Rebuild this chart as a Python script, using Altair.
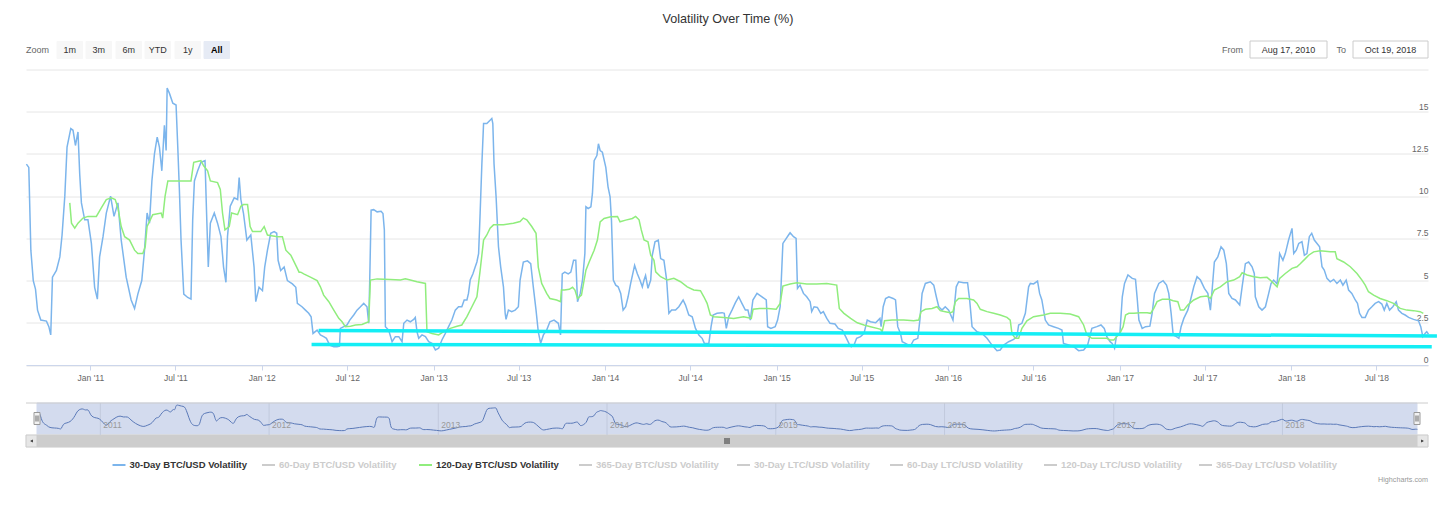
import altair as alt
import pandas as pd

# ---------------- data ----------------
# 30-Day BTC/USD volatility: time as decimal year, value in %
t30 = [2010.627, 2010.641, 2010.653, 2010.667, 2010.680, 2010.692, 2010.711, 2010.744, 2010.758, 2010.769,
       2010.779, 2010.802, 2010.822, 2010.835, 2010.851, 2010.864, 2010.886, 2010.899, 2010.913, 2010.928,
       2010.938, 2010.948, 2010.967, 2010.986, 2011.006, 2011.025, 2011.041, 2011.054, 2011.074, 2011.093,
       2011.118, 2011.138, 2011.161, 2011.180, 2011.209, 2011.238, 2011.258, 2011.277, 2011.300, 2011.316,
       2011.331, 2011.345, 2011.359, 2011.374, 2011.390, 2011.403, 2011.417, 2011.432, 2011.442, 2011.448,
       2011.461, 2011.481, 2011.500, 2011.510, 2011.519, 2011.529, 2011.545, 2011.568, 2011.587, 2011.597,
       2011.607, 2011.626, 2011.645, 2011.669, 2011.678, 2011.688, 2011.700, 2011.723, 2011.742, 2011.762,
       2011.777, 2011.791, 2011.800, 2011.816, 2011.839, 2011.859, 2011.868, 2011.878, 2011.893, 2011.913,
       2011.936, 2011.955, 2011.965, 2011.984, 2012.004, 2012.017, 2012.033, 2012.052, 2012.072, 2012.087,
       2012.095, 2012.110, 2012.130, 2012.149, 2012.178, 2012.198, 2012.207, 2012.234, 2012.254, 2012.273,
       2012.287, 2012.298, 2012.322, 2012.341, 2012.360, 2012.376, 2012.395, 2012.419, 2012.438, 2012.452,
       2012.457, 2012.477, 2012.496, 2012.512, 2012.535, 2012.554, 2012.574, 2012.593, 2012.612, 2012.622,
       2012.628, 2012.636, 2012.651, 2012.671, 2012.694, 2012.705, 2012.713, 2012.719, 2012.738, 2012.758,
       2012.777, 2012.797, 2012.816, 2012.826, 2012.845, 2012.864, 2012.884, 2012.893, 2012.903, 2012.913,
       2012.932, 2012.952, 2012.971, 2012.990, 2013.010, 2013.029, 2013.048, 2013.068, 2013.087, 2013.106,
       2013.126, 2013.145, 2013.164, 2013.178, 2013.194, 2013.203, 2013.213, 2013.229, 2013.242, 2013.252,
       2013.262, 2013.271, 2013.281, 2013.291, 2013.310, 2013.329, 2013.339, 2013.345, 2013.352, 2013.364,
       2013.378, 2013.391, 2013.407, 2013.417, 2013.422, 2013.436, 2013.455, 2013.475, 2013.494, 2013.504,
       2013.523, 2013.547, 2013.566, 2013.581, 2013.597, 2013.610, 2013.624, 2013.640, 2013.659, 2013.678,
       2013.702, 2013.727, 2013.740, 2013.750, 2013.765, 2013.785, 2013.800, 2013.816, 2013.829, 2013.839,
       2013.855, 2013.868, 2013.882, 2013.888, 2013.901, 2013.917, 2013.926, 2013.936, 2013.952, 2013.961,
       2013.971, 2013.984, 2014.004, 2014.017, 2014.029, 2014.037, 2014.048, 2014.062, 2014.076, 2014.091,
       2014.105, 2014.120, 2014.134, 2014.149, 2014.172, 2014.188, 2014.203, 2014.217, 2014.227, 2014.236,
       2014.250, 2014.266, 2014.275, 2014.291, 2014.310, 2014.324, 2014.343, 2014.359, 2014.372, 2014.388,
       2014.411, 2014.430, 2014.455, 2014.469, 2014.488, 2014.508, 2014.527, 2014.547, 2014.566, 2014.579,
       2014.605, 2014.618, 2014.630, 2014.653, 2014.682, 2014.695, 2014.707, 2014.721, 2014.740, 2014.760,
       2014.779, 2014.798, 2014.818, 2014.833, 2014.847, 2014.862, 2014.886, 2014.915, 2014.940, 2014.948,
       2014.967, 2014.992, 2015.006, 2015.021, 2015.031, 2015.037, 2015.050, 2015.070, 2015.079, 2015.099,
       2015.114, 2015.122, 2015.137, 2015.157, 2015.176, 2015.196, 2015.205, 2015.219, 2015.238, 2015.258,
       2015.273, 2015.293, 2015.312, 2015.341, 2015.360, 2015.384, 2015.403, 2015.422, 2015.436, 2015.452,
       2015.467, 2015.490, 2015.510, 2015.529, 2015.548, 2015.578, 2015.603, 2015.610, 2015.622, 2015.636,
       2015.655, 2015.680, 2015.694, 2015.707, 2015.723, 2015.733, 2015.752, 2015.781, 2015.800, 2015.824,
       2015.836, 2015.849, 2015.868, 2015.897, 2015.917, 2015.932, 2015.946, 2015.965, 2015.984, 2016.004,
       2016.029, 2016.037, 2016.048, 2016.062, 2016.091, 2016.114, 2016.126, 2016.140, 2016.169, 2016.198,
       2016.227, 2016.256, 2016.285, 2016.304, 2016.324, 2016.353, 2016.382, 2016.401, 2016.411, 2016.430,
       2016.450, 2016.469, 2016.479, 2016.498, 2016.521, 2016.533, 2016.546, 2016.566, 2016.585, 2016.614,
       2016.643, 2016.663, 2016.672, 2016.702, 2016.731, 2016.760, 2016.789, 2016.812, 2016.837, 2016.866,
       2016.890, 2016.909, 2016.924, 2016.943, 2016.955, 2016.969, 2016.981, 2017.000, 2017.014, 2017.027,
       2017.047, 2017.072, 2017.091, 2017.101, 2017.111, 2017.130, 2017.150, 2017.175, 2017.188, 2017.202,
       2017.227, 2017.252, 2017.272, 2017.285, 2017.299, 2017.311, 2017.330, 2017.344, 2017.357, 2017.373,
       2017.396, 2017.412, 2017.431, 2017.450, 2017.470, 2017.493, 2017.513, 2017.528, 2017.538, 2017.551,
       2017.571, 2017.590, 2017.606, 2017.621, 2017.635, 2017.654, 2017.674, 2017.699, 2017.713, 2017.732,
       2017.751, 2017.771, 2017.784, 2017.790, 2017.810, 2017.829, 2017.849, 2017.868, 2017.882, 2017.897,
       2017.917, 2017.932, 2017.951, 2017.965, 2017.984, 2018.004, 2018.014, 2018.029, 2018.043, 2018.062,
       2018.076, 2018.091, 2018.105, 2018.119, 2018.134, 2018.150, 2018.165, 2018.179, 2018.192, 2018.208,
       2018.227, 2018.247, 2018.266, 2018.286, 2018.301, 2018.320, 2018.334, 2018.353, 2018.373, 2018.386,
       2018.398, 2018.412, 2018.431, 2018.450, 2018.470, 2018.489, 2018.509, 2018.528, 2018.542, 2018.557,
       2018.573, 2018.592, 2018.612, 2018.625, 2018.645, 2018.664, 2018.684, 2018.713, 2018.742, 2018.755,
       2018.767, 2018.780, 2018.790, 2018.800]
v30 = [11.9, 11.7, 6.8, 5.0, 4.5, 3.25, 2.66, 2.6, 2.27, 1.78,
       5.2, 5.6, 6.4, 7.7, 10.0, 12.9, 14.0, 13.9, 13.0, 13.8,
       11.3, 9.6, 8.6, 8.6, 7.2, 4.6, 3.9, 6.4, 7.6, 9.0,
       10.0, 8.8, 9.6, 7.4, 5.2, 3.85, 3.35, 4.2, 5.0, 6.8,
       9.0, 8.4, 10.9, 12.5, 13.5, 12.9, 11.5, 14.2, 12.7, 16.4,
       16.1, 15.5, 15.4, 12.9, 10.5, 7.4, 4.2, 4.0, 3.9, 8.6,
       10.9, 11.5, 12.0, 12.1, 9.0, 5.8, 8.4, 9.0, 8.4, 7.6,
       5.8, 4.9, 7.6, 9.4, 9.9, 9.8, 11.1, 9.8, 9.0, 7.4,
       7.7, 5.8, 3.75, 4.6, 4.4, 5.8, 6.8, 7.8, 7.9, 7.8,
       6.2, 5.6, 5.8, 5.0, 4.8, 4.6, 3.65, 3.45, 3.25, 3.06,
       2.86, 1.87, 2.07, 1.78, 1.68, 1.58, 1.18, 1.08, 1.08, 1.12,
       2.17, 2.27, 2.37, 2.66, 2.96, 3.25, 3.45, 3.65, 3.45, 2.47,
       5.0, 9.17, 9.2, 9.07, 9.1, 8.97, 8.0, 2.27, 2.07, 1.38,
       1.68, 1.68, 1.38, 2.47, 2.66, 2.56, 2.7, 2.82, 1.97, 1.58,
       1.78, 1.68, 1.38, 1.28, 0.89, 0.99, 1.48, 1.87, 2.27, 2.66,
       3.25, 3.45, 3.45, 3.85, 3.85, 4.24, 5.03, 5.4, 5.8, 6.1,
       6.6, 9.0, 11.9, 14.3, 14.3, 14.5, 14.6, 14.3, 11.9, 9.96,
       7.0, 5.8, 4.63, 3.06, 2.7, 3.25, 3.16, 3.25, 3.45, 5.03,
       6.1, 6.17, 6.0, 4.63, 3.25, 1.97, 1.28, 1.78, 2.07, 2.56,
       2.66, 2.47, 1.78, 5.4, 5.5, 5.4, 5.5, 6.2, 6.2, 3.75,
       4.24, 5.03, 6.6, 9.37, 9.27, 9.37, 10.16, 12.1, 12.4, 13.1,
       12.7, 12.6, 11.7, 10.55, 9.96, 8.58, 5.03, 4.73, 4.63, 4.24,
       3.25, 3.45, 4.04, 4.83, 5.9, 5.4, 5.03, 4.63, 5.03, 5.3,
       4.54, 5.03, 6.5, 7.3, 7.4, 6.3, 6.2, 5.03, 3.06, 3.25,
       3.25, 3.45, 3.85, 3.55, 2.96, 2.86, 2.17, 1.78, 1.58, 1.28,
       1.28, 2.27, 2.96, 3.06, 3.1, 3.06, 2.17, 2.86, 3.25, 3.69,
       4.04, 3.65, 3.25, 3.25, 2.66, 3.85, 4.24, 4.04, 3.85, 2.27,
       2.17, 2.27, 2.66, 3.45, 5.82, 7.2, 7.4, 7.7, 7.83, 7.6,
       7.5, 4.54, 4.73, 4.24, 4.04, 3.75, 3.16, 3.45, 3.41, 3.06,
       3.16, 2.76, 2.47, 2.43, 2.17, 2.07, 1.68, 1.28, 1.08, 1.18,
       1.58, 1.68, 1.87, 2.66, 2.56, 2.5, 2.76, 2.27, 3.45, 3.94,
       4.04, 3.94, 3.85, 2.27, 1.87, 1.38, 1.28, 1.12, 1.48, 1.58,
       2.66, 4.24, 4.83, 4.93, 4.73, 4.04, 3.45, 3.25, 3.45, 3.25,
       2.66, 3.45, 4.63, 4.93, 4.87, 4.87, 3.85, 2.27, 1.97, 1.87,
       1.58, 1.18, 0.85, 0.89, 1.18, 1.38, 1.52, 1.68, 2.37, 2.47,
       3.06, 4.63, 4.83, 4.8, 4.97, 4.24, 3.85, 2.66, 2.37, 2.27,
       2.17, 2.07, 1.28, 1.18, 1.08, 0.85, 0.89, 1.18, 2.17, 2.27,
       2.37, 2.17, 1.68, 1.38, 1.28, 0.99, 1.78, 1.87, 4.04, 4.83,
       5.33, 5.13, 5.07, 3.94, 2.66, 2.17, 2.27, 2.3, 3.06, 4.24,
       4.83, 4.99, 4.73, 4.24, 3.06, 1.78, 1.68, 1.58, 2.27, 2.76,
       3.25, 3.85, 4.63, 5.23, 5.03, 4.54, 4.24, 3.25, 4.44, 6.1,
       6.4, 7.0, 6.8, 6.0, 4.24, 3.94, 3.85, 3.55, 4.63, 6.0,
       6.1, 5.82, 5.42, 4.04, 3.45, 3.25, 3.45, 4.24, 4.83, 5.03,
       4.8, 6.6, 6.2, 6.6, 7.4, 8.09, 6.6, 6.8, 7.2, 7.3,
       6.5, 6.6, 7.6, 7.8, 7.4, 7.2, 7.0, 5.82, 5.62, 5.13,
       4.93, 5.07, 4.83, 5.03, 4.73, 5.03, 4.44, 4.24, 3.85, 3.65,
       3.06, 2.82, 2.82, 3.25, 3.45, 3.65, 3.75, 3.61, 3.25, 3.65,
       3.25, 3.45, 3.75, 3.25, 3.06, 2.96, 2.82, 2.7, 2.62, 2.27,
       1.68, 1.87, 1.97, 1.83]

# 120-Day BTC/USD volatility
t120 = [2010.880, 2010.890, 2010.909, 2010.928, 2010.957, 2010.986, 2011.035, 2011.064, 2011.093, 2011.122,
        2011.145, 2011.161, 2011.180, 2011.200, 2011.229, 2011.258, 2011.277, 2011.306, 2011.320, 2011.331,
        2011.364, 2011.413, 2011.422, 2011.436, 2011.452, 2011.490, 2011.529, 2011.587, 2011.603, 2011.645,
        2011.661, 2011.684, 2011.700, 2011.742, 2011.758, 2011.771, 2011.785, 2011.810, 2011.824, 2011.859,
        2011.878, 2011.893, 2011.917, 2011.932, 2011.946, 2011.994, 2012.014, 2012.033, 2012.091, 2012.120,
        2012.140, 2012.169, 2012.203, 2012.217, 2012.227, 2012.244, 2012.283, 2012.322, 2012.341, 2012.360,
        2012.390, 2012.419, 2012.448, 2012.467, 2012.486, 2012.516, 2012.545, 2012.583, 2012.622, 2012.632,
        2012.671, 2012.748, 2012.806, 2012.835, 2012.864, 2012.903, 2012.952, 2012.961, 2012.990, 2013.029,
        2013.058, 2013.097, 2013.136, 2013.164, 2013.194, 2013.223, 2013.252, 2013.271, 2013.291, 2013.310,
        2013.329, 2013.349, 2013.407, 2013.465, 2013.504, 2013.523, 2013.543, 2013.572, 2013.597, 2013.610,
        2013.630, 2013.659, 2013.678, 2013.717, 2013.740, 2013.745, 2013.762, 2013.791, 2013.810, 2013.824,
        2013.839, 2013.862, 2013.888, 2013.907, 2013.936, 2013.955, 2013.971, 2013.994, 2014.033, 2014.072,
        2014.087, 2014.120, 2014.159, 2014.178, 2014.198, 2014.211, 2014.227, 2014.250, 2014.266, 2014.285,
        2014.295, 2014.324, 2014.362, 2014.401, 2014.440, 2014.479, 2014.517, 2014.556, 2014.576, 2014.595,
        2014.614, 2014.634, 2014.692, 2014.750, 2014.808, 2014.853, 2014.863, 2014.901, 2014.949, 2014.998,
        2015.021, 2015.037, 2015.079, 2015.118, 2015.176, 2015.234, 2015.293, 2015.351, 2015.366, 2015.393,
        2015.432, 2015.471, 2015.510, 2015.548, 2015.587, 2015.607, 2015.616, 2015.630, 2015.674, 2015.742,
        2015.800, 2015.829, 2015.843, 2015.868, 2015.907, 2015.936, 2015.955, 2015.984, 2016.014, 2016.029,
        2016.043, 2016.062, 2016.110, 2016.149, 2016.169, 2016.188, 2016.227, 2016.266, 2016.304, 2016.343,
        2016.362, 2016.372, 2016.391, 2016.411, 2016.430, 2016.459, 2016.498, 2016.556, 2016.595, 2016.653,
        2016.711, 2016.760, 2016.789, 2016.808, 2016.837, 2016.886, 2016.924, 2016.943, 2016.965, 2016.981,
        2017.000, 2017.019, 2017.033, 2017.052, 2017.082, 2017.120, 2017.159, 2017.179, 2017.198, 2017.217,
        2017.247, 2017.285, 2017.311, 2017.338, 2017.353, 2017.373, 2017.396, 2017.431, 2017.470, 2017.509,
        2017.528, 2017.551, 2017.586, 2017.625, 2017.664, 2017.699, 2017.713, 2017.742, 2017.781, 2017.819,
        2017.858, 2017.877, 2017.897, 2017.917, 2017.932, 2017.965, 2018.004, 2018.033, 2018.052, 2018.082,
        2018.101, 2018.130, 2018.169, 2018.227, 2018.256, 2018.266, 2018.305, 2018.344, 2018.383, 2018.412,
        2018.431, 2018.450, 2018.480, 2018.518, 2018.557, 2018.596, 2018.635, 2018.674, 2018.713, 2018.751,
        2018.770]
v120 = [9.6, 8.4, 8.1, 8.4, 8.7, 8.8, 8.8, 9.3, 9.8, 9.9,
        9.8, 9.3, 8.2, 7.6, 7.4, 6.8, 6.6, 6.6, 7.0, 8.2,
        8.9, 9.0, 8.7, 10.0, 10.9, 10.9, 10.9, 10.9, 12.0, 12.1,
        11.8, 11.5, 10.9, 10.8, 10.4, 9.0, 8.0, 8.2, 9.0, 8.9,
        9.4, 9.5, 9.5, 8.2, 7.9, 7.9, 8.2, 7.7, 7.6, 7.6,
        6.8, 6.5, 5.8, 5.5, 5.5, 5.4, 5.2, 5.0, 4.63, 4.14,
        3.75, 3.25, 2.76, 2.56, 2.27, 2.3, 2.37, 2.4, 2.56, 5.03,
        5.1, 5.07, 5.03, 5.1, 5.03, 4.93, 4.83, 1.97, 1.87, 1.78,
        1.97, 2.17, 2.3, 2.37, 2.86, 3.45, 4.04, 5.6, 7.4, 7.7,
        8.1, 8.3, 8.3, 8.4, 8.5, 8.7, 8.6, 8.2, 7.8, 5.8,
        4.83, 4.24, 3.94, 3.85, 3.75, 4.44, 4.44, 4.48, 4.6, 4.44,
        3.94, 4.14, 5.62, 6.1, 6.8, 7.4, 8.48, 8.68, 8.78, 8.8,
        8.48, 8.58, 8.68, 8.8, 8.6, 8.0, 7.4, 7.3, 6.5, 6.2,
        5.52, 5.23, 5.03, 5.13, 4.93, 4.63, 4.44, 4.4, 4.04, 3.65,
        2.96, 2.86, 2.82, 2.76, 2.86, 2.76, 3.3, 3.35, 3.35, 3.3,
        3.65, 4.67, 4.8, 4.87, 4.8, 4.8, 4.83, 4.73, 3.35, 3.06,
        2.76, 2.5, 2.37, 2.27, 2.17, 2.11, 1.97, 2.62, 2.66, 2.66,
        2.62, 2.66, 3.16, 3.3, 3.35, 3.45, 3.22, 3.16, 3.1, 3.16,
        3.75, 3.94, 3.94, 3.85, 3.65, 3.3, 3.16, 3.06, 2.96, 2.82,
        2.66, 1.87, 1.58, 1.58, 2.17, 2.62, 2.86, 2.96, 3.06, 3.06,
        3.02, 2.86, 2.37, 1.78, 1.58, 1.58, 1.58, 1.48, 1.48, 1.68,
        1.87, 2.27, 2.96, 3.06, 3.06, 3.1, 3.1, 3.06, 3.35, 3.75,
        3.89, 3.89, 3.81, 3.75, 3.25, 3.25, 3.55, 3.85, 4.04, 4.08,
        3.94, 4.44, 4.63, 4.93, 5.03, 5.23, 5.46, 5.33, 5.23, 5.17,
        5.19, 5.03, 4.83, 4.63, 5.13, 5.42, 5.72, 5.82, 6.0, 6.3,
        6.5, 6.7, 6.77, 6.7, 6.7, 6.3, 6.1, 5.82, 5.42, 5.03,
        4.73, 4.34, 4.14, 3.94, 3.81, 3.65, 3.35, 3.25, 3.22, 3.16,
        3.06]

# hand-drawn support lines (cyan): start/end date and level
trend_start = ["2012-05-01T00:00:00", "2012-04-16T00:00:00"]
trend_end = ["2018-11-07T00:00:00", "2018-10-27T00:00:00"]
trend_from = [2.05, 1.22]
trend_to = [1.72, 1.08]

legend_labels = ["30-Day BTC/USD Volatility", "60-Day BTC/USD Volatility",
                 "120-Day BTC/USD Volatility", "365-Day BTC/USD Volatility",
                 "30-Day LTC/USD Volatility", "60-Day LTC/USD Volatility",
                 "120-Day LTC/USD Volatility", "365-Day LTC/USD Volatility"]
legend_shown = [True, False, True, False, False, False, False, False]
series_colors = ["#7cb5ec", "#434348", "#90ed7d", "#f7a35c",
                 "#8085e9", "#f15c80", "#e4d354", "#2b908f"]

zoom_buttons = ["1m", "3m", "6m", "YTD", "1y", "All"]
range_from = "Aug 17, 2010"
range_to = "Oct 19, 2018"
nav_years = [2011, 2012, 2013, 2014, 2015, 2016, 2017, 2018]
y_ticks = [0, 2.5, 5, 7.5, 10, 12.5, 15, 17.5]
chart_title = "Volatility Over Time (%)"

# ---------------- layout / style ----------------
FONT = "Liberation Sans"
W, H = 1402, 295.5
NAV_X = [11, 1391]
NAV_TOP, NAV_BOT = 333.5, 365.5
SCR_BOT = 377.5
BTN_X = [31, 60, 90, 119, 149, 178]
BTN_W = 25.5
LEG_X = [103.5, 253, 410, 570, 728, 881, 1035, 1190]
LEG_Y = 395.5


def to_ts(t):
    y = int(t)
    start = pd.Timestamp(year=y, month=1, day=1)
    n = (pd.Timestamp(year=y + 1, month=1, day=1) - start).days
    return (start + pd.Timedelta(days=(t - y) * n)).round("h")


df30 = pd.DataFrame({"date": [to_ts(t) for t in t30], "value": v30})
df120 = pd.DataFrame({"date": [to_ts(t) for t in t120], "value": v120})
trend_df = pd.DataFrame({"start": trend_start, "end": trend_end, "v0": trend_from, "v1": trend_to})
years_df = pd.DataFrame({"date": [pd.Timestamp(year=y, month=1, day=1) for y in nav_years],
                         "text": [str(y) for y in nav_years]})

x_dom = [alt.DateTime(year=2010, month=8, date=17), alt.DateTime(year=2018, month=10, date=19)]
xs = alt.Scale(domain=x_dom)
ys = alt.Scale(domain=[0, 17.5], nice=False, zero=False)

xaxis = alt.Axis(format="%b '%y", tickCount={"interval": "month", "step": 6}, grid=False,
                 domainColor="#ccd6eb", tickColor="#ccd6eb", tickSize=5, labelFontSize=8.5,
                 labelColor="#666666", labelFont=FONT, labelPadding=3, labelFlush=False,
                 labelOverlap=False, title=None)
yaxis = alt.Axis(orient="right", values=y_ticks,
                 labelExpr="datum.value >= 17.5 ? '' : format(datum.value, '~g')",
                 grid=True, gridColor="#e6e6e6", gridWidth=1, domain=False, ticks=False, tickSize=0,
                 labelAlign="right", labelBaseline="alphabetic", labelPadding=0, labelOffset=-2.5,
                 labelFontSize=8.5, labelColor="#666666", labelFont=FONT, title=None)

blue = alt.Chart(df30).mark_line(color="#7cb5ec", strokeWidth=1.5).encode(
    x=alt.X("date:T", scale=xs, axis=xaxis, title=None),
    y=alt.Y("value:Q", scale=ys, axis=yaxis, title=None))
green = alt.Chart(df120).mark_line(color="#90ed7d", strokeWidth=1.5).encode(
    x=alt.X("date:T", scale=xs, axis=xaxis, title=None),
    y=alt.Y("value:Q", scale=ys, axis=yaxis, title=None))
trend = alt.Chart(trend_df).mark_rule(color="#14eef5", strokeWidth=3.5).encode(
    x=alt.X("start:T", scale=xs, axis=xaxis, title=None), x2="end:T",
    y=alt.Y("v0:Q", scale=ys, axis=yaxis, title=None), y2="v1:Q")
main = alt.layer(blue, green, trend)

# ---------------- navigator ----------------
nxs = alt.Scale(domain=x_dom, range=NAV_X)
nys = alt.Scale(domain=[-1.5, 17.4], range=[NAV_BOT, NAV_TOP], nice=False, zero=False)


def rects(rows):
    df = pd.DataFrame(rows, columns=["x0", "x1", "y0", "y1", "fill", "stroke"])
    return alt.Chart(df).mark_rect(strokeWidth=1).encode(
        x=alt.X("x0:Q", scale=None, axis=None), x2="x1:Q",
        y=alt.Y("y0:Q", scale=None, axis=None), y2="y1:Q",
        fill=alt.Fill("fill:N", scale=None, legend=None),
        stroke=alt.Stroke("stroke:N", scale=None, legend=None))


def rules(rows):
    df = pd.DataFrame(rows, columns=["x0", "x1", "y0", "y1", "color", "sw"])
    return alt.Chart(df).mark_rule().encode(
        x=alt.X("x0:Q", scale=None, axis=None), x2="x1:Q",
        y=alt.Y("y0:Q", scale=None, axis=None), y2="y1:Q",
        color=alt.Color("color:N", scale=None, legend=None),
        strokeWidth=alt.StrokeWidth("sw:Q", scale=None, legend=None))


def texts(rows, align, size, weight="normal", baseline="middle"):
    df = pd.DataFrame(rows, columns=["x", "y", "text", "color"])
    return alt.Chart(df).mark_text(align=align, baseline=baseline, fontSize=size,
                                   fontWeight=weight, font=FONT).encode(
        x=alt.X("x:Q", scale=None, axis=None), y=alt.Y("y:Q", scale=None, axis=None),
        text="text:N", color=alt.Color("color:N", scale=None, legend=None))


nav_bg = rects([
    (NAV_X[0], NAV_X[1], NAV_TOP, NAV_BOT, "#d3dbee", "#d3dbee"),
    (0, W, NAV_BOT, SCR_BOT, "#f2f2f2", "#f2f2f2"),
    (NAV_X[0], NAV_X[1], NAV_BOT, SCR_BOT, "#cdcdcd", "#cdcdcd"),
    (0, NAV_X[0], NAV_BOT, SCR_BOT, "#e6e6e6", "#cccccc"),
    (NAV_X[1], W, NAV_BOT, SCR_BOT, "#e6e6e6", "#cccccc"),
])
nav_grid = alt.Chart(years_df).mark_rule(color="#c2cadd", strokeWidth=1).encode(
    x=alt.X("date:T", scale=nxs, axis=None), y=alt.value(NAV_TOP), y2=alt.value(NAV_BOT))
nav_line = alt.Chart(df30).mark_line(color="#5a79b8", strokeWidth=1, interpolate="basis").encode(
    x=alt.X("date:T", scale=nxs, axis=None), y=alt.Y("value:Q", scale=nys, axis=None))
nav_labels = alt.Chart(years_df).mark_text(align="left", baseline="alphabetic", dx=3,
                                           fontSize=8.5, font=FONT, color="#999999").encode(
    x=alt.X("date:T", scale=nxs, axis=None), y=alt.value(358.5), text="text:N")
nav = alt.layer(nav_grid, nav_line, nav_labels)

nav_fg_rects = rects([
    (8, 14, 343, 355, "#f2f2f2", "#999999"),
    (NAV_X[1] - 3, NAV_X[1] + 3, 343, 355, "#f2f2f2", "#999999"),
])
ui_rules = rules(
    [(0, W, NAV_TOP, NAV_TOP, "#cccccc", 1),
     (10, 10, 346, 352, "#666666", 1), (12, 12, 346, 352, "#666666", 1),
     (NAV_X[1] - 1, NAV_X[1] - 1, 346, 352, "#666666", 1), (NAV_X[1] + 1, NAV_X[1] + 1, 346, 352, "#666666", 1),
     (699, 699, 368.5, 374.5, "#333333", 1), (701, 701, 368.5, 374.5, "#333333", 1),
     (703, 703, 368.5, 374.5, "#333333", 1)]
    + [(lx - 17, lx - 4, LEG_Y, LEG_Y, c if s else "#cccccc", 2)
       for lx, c, s in zip(LEG_X, series_colors, legend_shown)]
)
arrow_l = alt.Chart(pd.DataFrame({"a": [0]})).mark_point(
    shape="triangle-left", filled=True, color="#333333", size=10, opacity=1).encode(
    x=alt.value(5.5), y=alt.value(371.5))
arrow_r = alt.Chart(pd.DataFrame({"a": [0]})).mark_point(
    shape="triangle-right", filled=True, color="#333333", size=10, opacity=1).encode(
    x=alt.value(W - 5.5), y=alt.value(371.5))

# ---------------- top controls ----------------
btn_rects = rects(
    [(bx, bx + BTN_W, -28, -11, "#e6ebf5" if b == "All" else "#f7f7f7",
      "#e6ebf5" if b == "All" else "#f7f7f7") for bx, b in zip(BTN_X, zoom_buttons)]
    + [(1224, 1301, -28.5, -11.5, "#ffffff", "#cccccc"),
       (1327, 1402, -28.5, -11.5, "#ffffff", "#cccccc")]
)
btn_text = texts([(bx + BTN_W / 2, -19.5, b, "#333333") for bx, b in zip(BTN_X, zoom_buttons) if b != "All"]
                 + [(1262.5, -20, range_from, "#333333"), (1364.5, -20, range_to, "#333333")],
                 "center", 9)
btn_all = texts([(bx + BTN_W / 2, -19.5, b, "#000000") for bx, b in zip(BTN_X, zoom_buttons) if b == "All"],
                "center", 9, "bold")
zoom_lbl = texts([(0, -19.5, "Zoom", "#666666")], "left", 9)
fromto = texts([(1217, -20, "From", "#666666"), (1320, -20, "To", "#666666")], "right", 9)
title = texts([(702, -50.5, chart_title, "#333333")], "center", 12.6)
legend_text = texts([(lx, LEG_Y, lab, "#333333" if s else "#cccccc")
                     for lx, lab, s in zip(LEG_X, legend_labels, legend_shown)], "left", 9.5, "bold")
credits = texts([(W, 410.5, "Highcharts.com", "#999999")], "right", 7.2)

chart = alt.layer(
    main, nav_bg, nav, nav_fg_rects, ui_rules, arrow_l, arrow_r,
    btn_rects, btn_text, btn_all, zoom_lbl, fromto, title, legend_text, credits
).resolve_scale(x="independent", y="independent").properties(
    width=W, height=H,
    padding={"left": 18, "top": 61.5, "right": 12, "bottom": 141},
    autosize=alt.AutoSizeParams(type="none"),
    background="white",
).configure_view(strokeWidth=0)

chart.save("out.html", embed_options={"renderer": "svg", "actions": False})
